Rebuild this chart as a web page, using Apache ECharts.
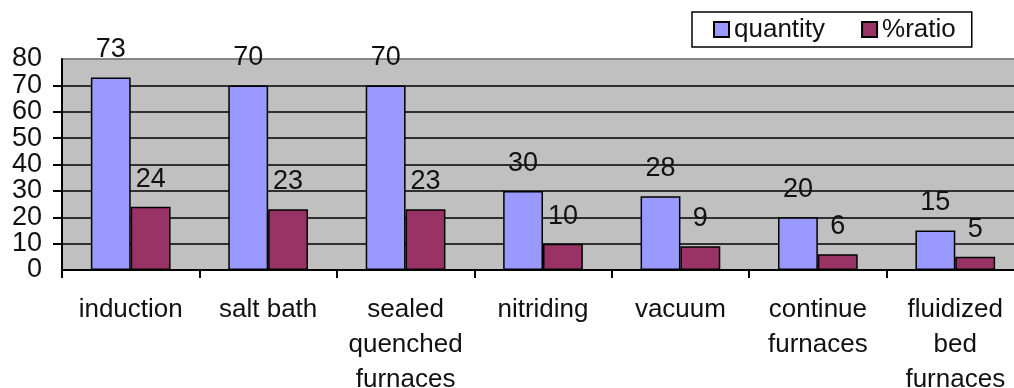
<!DOCTYPE html>
<html>
<head>
<meta charset="utf-8">
<script src="https://cdn.jsdelivr.net/npm/echarts@6/dist/echarts.min.js"></script>
<style>
  html, body { margin: 0; padding: 0; background: #fff; }
  #chart { width: 1014px; height: 388px; }
</style>
</head>
<body>
<div id="chart"></div>
<script>
// 数据
var categories = ['induction', 'salt bath', 'sealed\nquenched\nfurnaces', 'nitriding', 'vacuum', 'continue\nfurnaces', 'fluidized\nbed\nfurnaces'];
var quantity = [73, 70, 70, 30, 28, 20, 15];
var ratio = [24, 23, 23, 10, 9, 6, 5];

var font = 'Liberation Sans, Arial, sans-serif';
var labelStyle = {
	show: true,
	position: 'top',
	distance: 14,
	fontFamily: font,
	fontSize: 27,
	color: '#111'
};
var yLabelStyle = { fontFamily: font, fontSize: 27, color: '#111' };

var myChart = echarts.init(document.getElementById('chart'));
myChart.setOption({
	animation: false,
	legend: {
		left: 692,
		top: 12,
		padding: [4, 16, 4, 21],
		icon: 'rect',
		itemWidth: 15,
		itemHeight: 15,
		itemGap: 36,
		borderColor: '#000',
		borderWidth: 1.5,
		backgroundColor: '#fff',
		textStyle: { fontFamily: font, fontSize: 26, color: '#111', lineHeight: 27 },
		data: ['quantity', '%ratio']
	},
	grid: {
		left: 62,
		top: 59,
		bottom: 118,
		width: 962,
		outerBoundsMode: 'none',
		containLabel: false,
		show: true,
		backgroundColor: '#c0c0c0',
		borderColor: '#808080',
		borderWidth: 1.5
	},
	xAxis: {
		type: 'category',
		data: categories,
		axisLine: { lineStyle: { color: '#000', width: 2 } },
		axisTick: { show: true, length: 8, lineStyle: { color: '#000', width: 2 } },
		axisLabel: {
			interval: 0,
			margin: 22,
			fontFamily: font,
			fontSize: 26,
			lineHeight: 35,
			color: '#111'
		}
	},
	yAxis: [
		{
			type: 'value',
			position: 'left',
			min: 0,
			max: 80,
			interval: 10,
			axisLine: { show: true, lineStyle: { color: '#000', width: 2 } },
			axisTick: { show: true, length: 9, lineStyle: { color: '#000', width: 2 } },
			axisLabel: Object.assign({ margin: 20, showMinLabel: false, showMaxLabel: false }, yLabelStyle),
			splitLine: {
				lineStyle: {
					color: ['#000', '#000', '#000', '#000', '#000', '#000', '#000', '#000', '#808080'],
					width: 1.5
				}
			}
		},
		{
			// 0 和 80 两个端点刻度标签
			type: 'value',
			position: 'left',
			offset: 0,
			min: 0,
			max: 80,
			interval: 80,
			axisLine: { show: false },
			axisTick: { show: false },
			splitLine: { show: false },
			axisLabel: Object.assign({ margin: 20 }, yLabelStyle)
		}
	],
	series: [
		{
			name: 'quantity',
			type: 'bar',
			data: quantity,
			barGap: '0%',
			barCategoryGap: '42%',
			itemStyle: { color: '#9999ff', borderColor: '#000', borderWidth: 1.5 },
			label: labelStyle
		},
		{
			name: '%ratio',
			type: 'bar',
			data: ratio,
			itemStyle: { color: '#993366', borderColor: '#000', borderWidth: 1.5 },
			label: labelStyle
		}
	]
});
</script>
</body>
</html>
